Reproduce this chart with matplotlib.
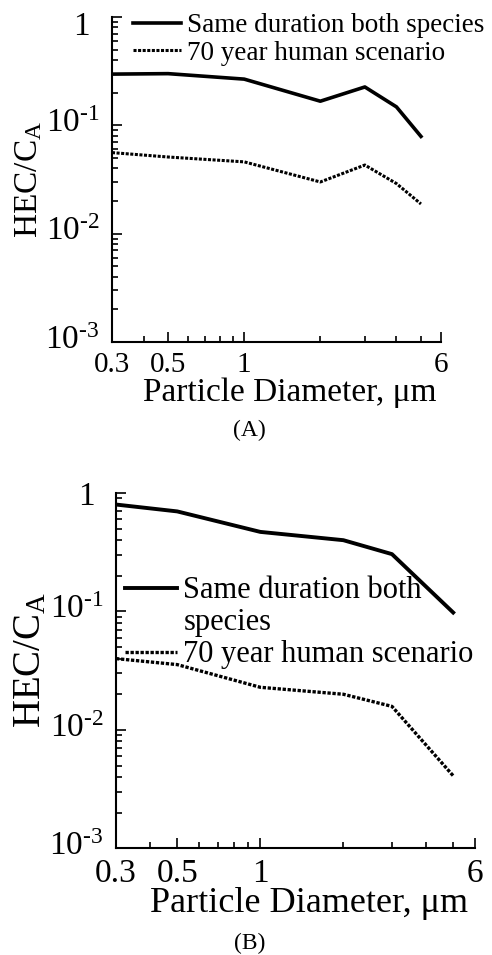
import matplotlib
matplotlib.use("Agg")
import matplotlib.pyplot as plt
from matplotlib.lines import Line2D
from matplotlib.transforms import ScaledTranslation
from matplotlib.ticker import FixedLocator, FixedFormatter, NullFormatter

plt.rcParams['font.family'] = ['Liberation Serif', 'DejaVu Serif']
plt.rcParams['mathtext.fontset'] = 'custom'
plt.rcParams['mathtext.rm'] = 'Liberation Serif'
plt.rcParams['mathtext.it'] = 'Liberation Serif'

# Panel A data
xa = [0.3, 0.5, 1, 2, 3, 4, 5]
a_same = [0.297, 0.30, 0.267, 0.167, 0.226, 0.148, 0.079]
a_70yr = [0.056, 0.051, 0.046, 0.030, 0.043, 0.029, 0.0188]

# Panel B data
xb = [0.3, 0.5, 1, 2, 3, 5]
b_same = [0.80, 0.70, 0.47, 0.40, 0.305, 0.098]
b_70yr = [0.040, 0.0356, 0.0229, 0.020, 0.0158, 0.0041]

xticks = [0.3, 0.5, 1, 6]
xtick_labels = ['0.3', '0.5', '1', '6']
xminor = [0.4, 0.6, 0.7, 0.8, 0.9, 2, 3, 4, 5]
yticks = [1e-3, 1e-2, 1e-1, 1]
ytick_labels = ['$10^{\u20103}$', '$10^{\u20102}$', '$10^{\u20101}$', '1 ']
xlabel = 'Particle Diameter, \u03bcm'
ylabel = 'HEC/C$_{\\mathrm{A}}$'
label_same = 'Same duration both species'
label_same_1 = 'Same duration both'
label_same_2 = 'species'
label_70 = '70 year human scenario'

fig = plt.figure(figsize=(4.92, 9.55), dpi=100)

def style(ax, xfs, yfs, labfs, ylabfs, xlc, ylc, top_dy):
    ax.set_xscale('log')
    ax.set_yscale('log')
    ax.set_xlim(0.3, 6)
    ax.set_ylim(1e-3, 1)
    ax.spines['top'].set_visible(False)
    ax.spines['right'].set_visible(False)
    ax.spines['left'].set_linewidth(1.5)
    ax.spines['bottom'].set_linewidth(1.5)
    ax.xaxis.set_major_locator(FixedLocator(xticks))
    ax.xaxis.set_major_formatter(FixedFormatter(xtick_labels))
    ax.xaxis.set_minor_locator(FixedLocator(xminor))
    ax.xaxis.set_minor_formatter(NullFormatter())
    ax.yaxis.set_major_locator(FixedLocator(yticks))
    ax.yaxis.set_major_formatter(FixedFormatter(ytick_labels))
    ax.tick_params(which='both', direction='in', width=1.2)
    ax.tick_params(which='major', length=7)
    ax.tick_params(which='minor', length=4)
    ax.tick_params(axis='x', pad=7, labelsize=xfs)
    ax.tick_params(axis='y', pad=9, labelsize=yfs)
    ax.set_xlabel(xlabel, fontsize=labfs)
    ax.set_ylabel(ylabel, fontsize=ylabfs)
    ax.xaxis.set_label_coords(*xlc)
    ax.yaxis.set_label_coords(*ylc)
    ticks = ax.yaxis.get_major_ticks()
    for i, t in enumerate(ticks):
        dy = 5 if i < 3 else top_dy
        t.label1.set_transform(t.label1.get_transform()
                               + ScaledTranslation(0, dy / 100, fig.dpi_scale_trans))

dash = (0, (1.0, 0.5))

# Panel A
axA = fig.add_axes([0.2276, 0.6419, 0.6687, 0.3403])
axA.plot(xa, a_same, color='black', lw=2.6, label=label_same)
axA.plot(xa, a_70yr, color='black', lw=2.2, ls=dash, label=label_70)
style(axA, 21, 24, 24, 24, (0.54, -0.108), (-0.205, 0.5), -6)
axA.legend(loc='upper left', bbox_to_anchor=(0.03, 1.045), frameon=False,
           fontsize=19.5, handlelength=1.8, handletextpad=0.2, labelspacing=0.1,
           borderaxespad=0)
fig.text(249 / 492, 1 - 430 / 955, '(A)', ha='center', va='center', fontsize=17)

# Panel B
axB = fig.add_axes([0.2358, 0.1117, 0.7297, 0.372])
axB.plot(xb, b_same, color='black', lw=2.8)
axB.plot(xb, b_70yr, color='black', lw=2.4, ls=dash)
style(axB, 24, 24, 26, 28, (0.538, -0.11), (-0.185, 0.53), 0)
handles = [Line2D([], [], color='black', lw=2.8),
           Line2D([], [], color='none'),
           Line2D([], [], color='black', lw=2.4, ls=dash)]
axB.legend(handles, [label_same_1, label_same_2, label_70],
           loc='upper left', bbox_to_anchor=(-0.008, 0.80), frameon=False,
           fontsize=22, handlelength=1.7, handletextpad=0.2, labelspacing=0.1,
           borderaxespad=0)
fig.text(250 / 492, 1 - 943 / 955, '(B)', ha='center', va='center', fontsize=17)

fig.savefig('out.png', dpi=100)
